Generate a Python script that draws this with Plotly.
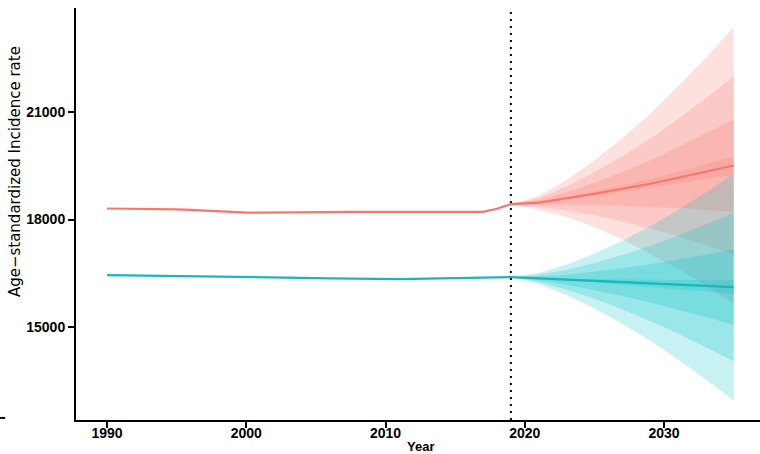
import plotly.graph_objects as go

# ---------------- data ----------------
obs_years = list(range(1990, 2019))
red_obs = [18308, 18305, 18300, 18296, 18292, 18285, 18270, 18248, 18225, 18200,
           18190, 18190, 18196, 18205, 18212, 18216, 18218, 18218, 18216, 18215,
           18214, 18212, 18210, 18208, 18206, 18204, 18203, 18215, 18300]
teal_obs = [16444, 16440, 16435, 16430, 16425, 16418, 16410, 16402, 16396, 16392,
            16388, 16384, 16380, 16376, 16370, 16362, 16354, 16346, 16340, 16336,
            16334, 16334, 16337, 16342, 16348, 16354, 16362, 16370, 16380]

fc_years = [2019, 2021, 2023, 2025, 2027, 2029, 2031, 2033, 2035]
red_fc = [18430, 18470, 18590, 18720, 18860, 19000, 19170, 19340, 19510]
teal_fc = [16388, 16350, 16315, 16280, 16245, 16210, 16178, 16143, 16108]

# half-widths of the nested prediction bands (innermost -> outermost)
red_w1 = [0, 12, 34, 61, 93, 129, 168, 210, 255]
red_w2 = [0, 63, 173, 311, 472, 653, 850, 1063, 1290]
red_w3 = [0, 122, 334, 600, 911, 1260, 1641, 2052, 2490]
red_w4 = [0, 190, 519, 933, 1416, 1958, 2550, 3189, 3870]

teal_w1 = [0, 9, 25, 46, 70, 96, 125, 157, 190]
teal_w2 = [0, 52, 142, 255, 388, 536, 699, 873, 1060]
teal_w3 = [0, 102, 278, 500, 759, 1050, 1367, 1710, 2075]
teal_w4 = [0, 155, 425, 764, 1160, 1604, 2089, 2612, 3170]

x_ticks = [1990, 2000, 2010, 2020, 2030]
x_ticklabels = ["1990", "2000", "2010", "2020", "2030"]
y_ticks = [15000, 18000, 21000]
y_ticklabels = ["15000", "18000", "21000"]
split_year = 2019

RED = "#F8766D"
TEAL = "#00BFC4"
RED_FILL = "rgba(248,118,109,0.22)"
TEAL_FILL = "rgba(0,191,196,0.22)"

fig = go.Figure()


def add_bands(mean, widths_list, fill):
    for w in widths_list[::-1]:
        upper = [m + d for m, d in zip(mean, w)]
        lower = [m - d for m, d in zip(mean, w)]
        fig.add_trace(go.Scatter(
            x=fc_years + fc_years[::-1],
            y=upper + lower[::-1],
            fill="toself", fillcolor=fill,
            line=dict(width=0), mode="lines",
            hoverinfo="skip", showlegend=False))


add_bands(red_fc, [red_w1, red_w2, red_w3, red_w4], RED_FILL)
add_bands(teal_fc, [teal_w1, teal_w2, teal_w3, teal_w4], TEAL_FILL)

fig.add_trace(go.Scatter(x=obs_years + fc_years, y=red_obs + red_fc, mode="lines",
                         line=dict(color=RED, width=2.2), showlegend=False))
fig.add_trace(go.Scatter(x=obs_years + fc_years, y=teal_obs + teal_fc, mode="lines",
                         line=dict(color="#17B8BD", width=2.2), showlegend=False))

fig.add_shape(type="line", xref="x", yref="paper", x0=split_year, x1=split_year,
              y0=0, y1=1, line=dict(color="black", width=2, dash="2px,5px"))

# stray tick mark from neighbouring panel at left edge
fig.add_shape(type="line", xref="paper", yref="paper", x0=-0.111, x1=-0.1035,
              y0=0.005, y1=0.005, line=dict(color="black", width=2))

tickfont = dict(family="Liberation Sans", size=14, color="black", weight="bold")

fig.update_layout(
    width=760, height=454,
    margin=dict(l=76, r=0, t=8, b=34),
    plot_bgcolor="white", paper_bgcolor="white",
    showlegend=False,
    xaxis=dict(range=[1987.77, 2036.89], tickvals=x_ticks, ticktext=x_ticklabels,
               showgrid=False, zeroline=False, showline=True, linecolor="black",
               linewidth=2, ticks="outside", ticklen=6, tickwidth=1.8,
               tickcolor="black", tickfont=tickfont, ticklabelstandoff=-7),
    yaxis=dict(range=[12389, 23919], tickvals=y_ticks, ticktext=y_ticklabels,
               showgrid=False, zeroline=False, showline=True, linecolor="black",
               linewidth=2, ticks="outside", ticklen=6, tickwidth=1.8,
               tickcolor="black", tickfont=tickfont),
    annotations=[
        dict(text="Age\u2212standardized Incidence rate", xref="paper", yref="paper",
             x=-0.089, y=0.602, xanchor="center", yanchor="middle", textangle=-90,
             showarrow=False,
             font=dict(family="DejaVu Sans", size=15, color="black")),
        dict(text="Year", xref="paper", yref="paper", x=0.504, y=-0.041,
             xanchor="center", yanchor="top", showarrow=False,
             font=dict(family="Liberation Sans", size=13, color="black", weight="bold")),
    ],
)

fig.write_html("out.html", post_script="document.body.style.margin='0px';",
               config={"displayModeBar": False})
